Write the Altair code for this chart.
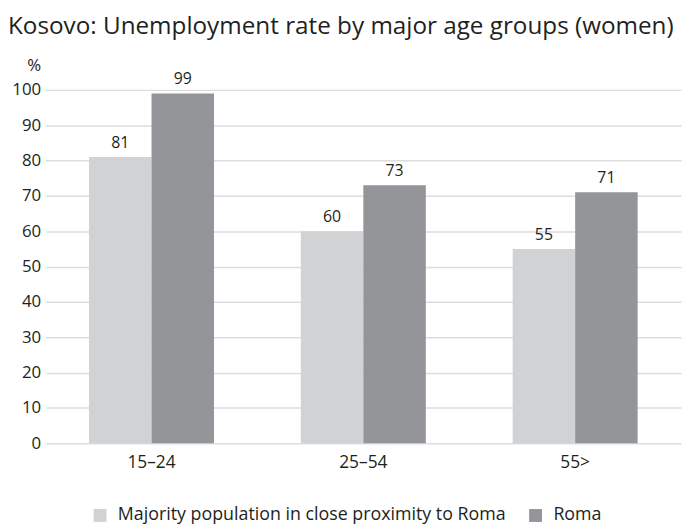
import altair as alt
import pandas as pd

groups = ["15–24", "25–54", "55>"]
series = ["Majority population in close proximity to Roma", "Roma"]
majority = [81, 60, 55]
roma = [99, 73, 71]
colors = ["#d1d2d4", "#939598"]

rows = []
for g, m, r in zip(groups, majority, roma):
    rows.append({"group": g, "series": series[0], "value": m, "order": 0})
    rows.append({"group": g, "series": series[1], "value": r, "order": 1})
df = pd.DataFrame(rows)

FONT = "Open Sans"
TXT = "#231f20"

base = alt.Chart(df).encode(
    x=alt.X("group:N", sort=groups,
            scale=alt.Scale(paddingInner=0.41, paddingOuter=0.205),
            axis=alt.Axis(title=None, labelAngle=0, labelFontSize=17.5, labelFont=FONT,
                          labelColor=TXT, ticks=False, domain=False, labelPadding=11,
                          grid=False)),
    xOffset=alt.XOffset("series:N", sort=series),
    y=alt.Y("value:Q", scale=alt.Scale(domain=[0, 100]),
            axis=alt.Axis(title="%", titleAngle=0, titleAlign="right", titleBaseline="bottom",
                          titleX=-5, titleY=-16, titleFont=FONT, titleFontSize=17,
                          titleFontWeight="normal", titleColor=TXT,
                          values=list(range(0, 101, 10)), labelOverlap=False,
                          labelFontSize=17, labelFont=FONT,
                          labelColor=TXT, ticks=False, domain=False, labelPadding=5,
                          grid=True, gridColor="#dcdddf", gridWidth=1.5)),
)

bars = base.mark_bar().encode(
    color=alt.Color("series:N", sort=series,
                    scale=alt.Scale(domain=series, range=colors),
                    legend=alt.Legend(title=None, orient="none", direction="horizontal",
                                      legendX=46, legendY=421, symbolType="square",
                                      symbolSize=169, symbolStrokeWidth=0, labelLimit=0,
                                      labelFont=FONT, labelFontSize=18, labelColor=TXT,
                                      columnPadding=20, labelOffset=9)),
)

labels = base.mark_text(baseline="bottom", dy=-6, fontSize=16, font=FONT, color=TXT).encode(
    text=alt.Text("value:Q"),
)

chart = (bars + labels).properties(
    width=642, height=357,
    title=alt.TitleParams("Kosovo: Unemployment rate by major age groups (women)",
                          anchor="start", frame="group", font=FONT, fontSize=24.5,
                          fontWeight="normal", color=TXT, dx=-38, offset=17),
    autosize=alt.AutoSizeParams(type="none"),
    padding={"left": 38, "top": 80, "right": 6, "bottom": 90},
).configure_view(stroke=None)

chart.save("out.html", embed_options={"renderer": "svg", "actions": False})
